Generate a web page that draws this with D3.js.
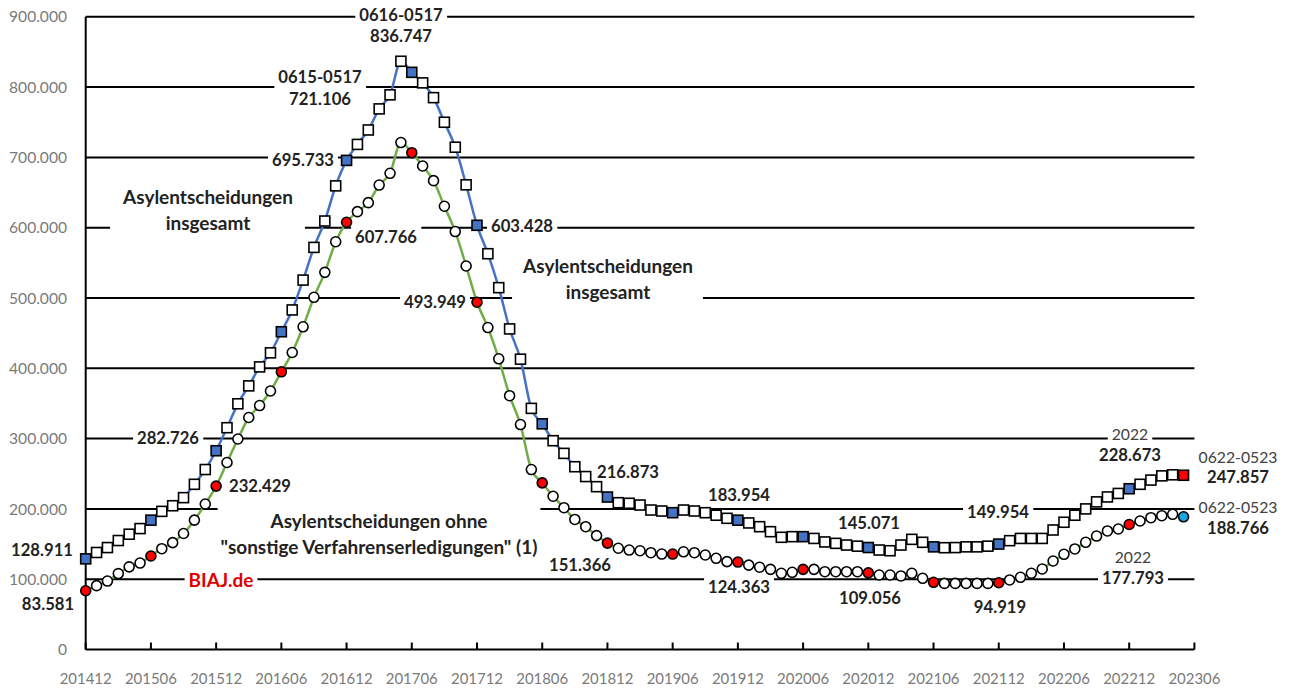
<!DOCTYPE html>
<html><head><meta charset="utf-8">
<script src="https://cdn.jsdelivr.net/npm/d3@7"></script>
<style>
html,body{margin:0;padding:0;background:#fff;}
svg{display:block;font-family:Lato,"Open Sans",sans-serif;}
</style></head>
<body><svg id="c" width="1291" height="691"></svg>
<script>
// ---- data ----
const startYear = 2014, startMonth = 12, nMonths = 102;
const months = [];
for (let k = 0; k < nMonths; k++) {
  const m = (startMonth - 1 + k) % 12 + 1, y = startYear + Math.floor((startMonth - 1 + k) / 12);
  months.push(String(y) + String(m).padStart(2, "0"));
}
const xTickLabels = ["201412","201506","201512","201606","201612","201706","201712","201806","201812","201906","201912","202006","202012","202106","202112","202206","202212","202306"];
const yTicks = [0,100000,200000,300000,400000,500000,600000,700000,800000,900000];

const totalDecisions = [128911,138000,145000,155000,164000,172000,184000,196500,204500,216000,235000,256000,
 282726,315500,349500,375000,402000,422000,452000,483000,525500,572000,609500,659500,
 695733,718500,739000,769000,789000,836747,821000,806000,785000,750000,714500,661000,
 603428,563000,514700,456000,413000,343000,321000,297000,279000,260000,246000,231600,
 216873,208800,208000,205500,198400,197000,194600,198400,197000,194600,191000,186600,
 183954,180000,174700,167600,159600,160500,160500,158000,153000,151000,148600,147000,
 145071,141500,140500,148600,156700,152500,146000,144800,145000,146000,146000,147000,
 149954,154800,158000,158000,158000,170000,181000,191000,200000,210000,217000,222000,
 228673,235000,241000,247000,248500,247857];

const withoutOther = [83581,90800,97400,108000,117600,123000,133000,143400,152000,165000,184000,207000,
 232429,266000,299400,330000,347000,367700,395000,422500,459000,501000,536500,580000,
 607766,622800,635600,660700,677400,721106,706700,687800,666900,630500,594500,545500,
 493949,458000,413500,361000,320000,256000,237000,218000,201700,185000,174700,162000,
 151366,144000,141500,140500,137700,135800,135800,139000,137700,134400,129700,125000,
 124363,120000,117000,114000,108400,109800,114000,114000,110700,110700,110700,110700,
 109056,106000,106000,104600,108400,101300,95600,94000,94000,94000,94000,94000,
 94919,98900,102700,108400,114500,125900,135400,143000,152500,161400,168600,171400,
 177793,182800,187500,190300,192300,188766];

const highlightIdx = [0,6,12,18,24,30,36,42,48,54,60,66,72,78,84,96];
const lastIdx = 101;

// ---- layout ----
const svg = d3.select("#c");
const x = d3.scaleLinear().domain([0, 102]).range([85.7, 1194.4]);
const y = d3.scaleLinear().domain([0, 900000]).range([649.5, 16.8]);
const fmt = v => d3.format(",")(v).replace(/,/g, ".");

function fitSize(sample, weight, target) {
  const t = svg.append("text").attr("font-size", 100).attr("font-weight", weight).text(sample);
  const w = t.node().getComputedTextLength();
  t.remove();
  return 100 * target / w;
}
const fsY = fitSize("900.000", 400, 58);
const fsX = fitSize("201412", 400, 52);
const fsNum = fitSize("836.747", 700, 62);
const fsTxt = fitSize("Asylentscheidungen", 700, 170);
const fsReg = fitSize("0622-0523", 400, 79);

// gridlines
svg.append("g").selectAll("line").data(yTicks.filter(d => d > 0)).join("line")
  .attr("x1", x(0)).attr("x2", x(102)).attr("y1", d => y(d)).attr("y2", d => y(d))
  .attr("stroke", "#000").attr("stroke-width", 2);

// y labels
svg.append("g").selectAll("text").data(yTicks).join("text")
  .attr("x", 67).attr("y", d => y(d)).attr("dy", "0.36em").attr("text-anchor", "end")
  .attr("font-size", fsY).attr("fill", "#7a7a7a").text(d => d === 0 ? "0" : fmt(d));

// axes
svg.append("line").attr("x1", x(0)).attr("x2", x(0)).attr("y1", y(900000)).attr("y2", y(0))
  .attr("stroke", "#000").attr("stroke-width", 2);
svg.append("line").attr("x1", x(0)).attr("x2", x(102)).attr("y1", y(0)).attr("y2", y(0))
  .attr("stroke", "#000").attr("stroke-width", 2);
const tickIdx = xTickLabels.map((_, i) => i * 6);
svg.append("g").selectAll("line").data(tickIdx).join("line")
  .attr("x1", d => x(d)).attr("x2", d => x(d)).attr("y1", y(0)).attr("y2", y(0) - 7)
  .attr("stroke", "#000").attr("stroke-width", 2);
svg.append("g").selectAll("text").data(xTickLabels).join("text")
  .attr("x", (d, i) => x(i * 6)).attr("y", 679).attr("dy", "0.36em").attr("text-anchor", "middle")
  .attr("font-size", fsX).attr("fill", "#7a7a7a").text(d => d);

const ann = [
  {lines:["0616-0517"], cx:401, cy:15, bold:true},
  {lines:["836.747"], cx:401, cy:36, bold:true, nobox:true},
  {lines:["0615-0517"], cx:320, cy:77, bold:true},
  {lines:["721.106"], cx:320, cy:99, bold:true, nobox:true},
  {lines:["695.733"], cx:303, cy:160, bold:true},
  {lines:["Asylentscheidungen","insgesamt"], cx:208, cy:210, bold:true, txt:true, lh:26, padX:12},
  {lines:["607.766"], cx:386, cy:237, bold:true},
  {lines:["603.428"], cx:522, cy:226, bold:true},
  {lines:["493.949"], cx:435, cy:302, bold:true},
  {lines:["Asylentscheidungen","insgesamt"], cx:608, cy:279, bold:true, txt:true, lh:26, padX:10},
  {lines:["282.726"], cx:168, cy:438, bold:true},
  {lines:["232.429"], cx:260, cy:486, bold:true, nobox:true},
  {lines:["Asylentscheidungen ohne","\"sonstige Verfahrenserledigungen\" (1)"], cx:379, cy:534, bold:true, txt:true, lh:26, padX:3, padTop:8},
  {lines:["BIAJ.de"], cx:221, cy:580, bold:true, txt:true, color:"#e00000"},
  {lines:["128.911"], cx:42, cy:550, bold:true, nobox:true},
  {lines:["83.581"], cx:48, cy:604, bold:true, nobox:true},
  {lines:["216.873"], cx:628, cy:472, bold:true, nobox:true},
  {lines:["151.366"], cx:580, cy:565, bold:true, nobox:true},
  {lines:["183.954"], cx:739, cy:495, bold:true, nobox:true},
  {lines:["124.363"], cx:739, cy:587, bold:true},
  {lines:["145.071"], cx:869, cy:523, bold:true, nobox:true},
  {lines:["109.056"], cx:870, cy:598, bold:true, nobox:true},
  {lines:["149.954"], cx:998, cy:512, bold:true},
  {lines:["94.919"], cx:1000, cy:607, bold:true, nobox:true},
  {lines:["2022"], cx:1130, cy:434, bold:false, color:"#404040"},
  {lines:["228.673"], cx:1130, cy:455, bold:true, nobox:true},
  {lines:["0622-0523"], cx:1238, cy:457, bold:false, color:"#404040", nobox:true},
  {lines:["247.857"], cx:1238, cy:477, bold:true, nobox:true},
  {lines:["0622-0523"], cx:1238, cy:507, bold:false, color:"#404040", nobox:true},
  {lines:["188.766"], cx:1238, cy:528, bold:true, nobox:true},
  {lines:["2022"], cx:1133, cy:557, bold:false, color:"#404040", nobox:true},
  {lines:["177.793"], cx:1133, cy:578, bold:true}
];
const annG = svg.append("g");
ann.forEach(a => {
  const g = annG.append("g");
  const lh = a.lh || 20;
  const n = a.lines.length;
  const fs = !a.bold ? fsReg : (a.txt ? fsTxt : fsNum);
  const t = g.append("text").attr("font-size", fs).attr("font-weight", a.bold ? 700 : 400)
    .attr("fill", a.color || "#222").attr("text-anchor", "middle");
  a.lines.forEach((l, k) => {
    t.append("tspan").attr("x", a.cx).attr("y", a.cy + (k - (n - 1) / 2) * lh).attr("dy", "0.36em").text(l);
  });
  if (!a.nobox) {
    const b = t.node().getBBox();
    const px = a.padX != null ? a.padX : 4;
    const pt = a.padTop || 1;
    g.insert("rect", "text").attr("x", b.x - px).attr("y", b.y - pt)
      .attr("width", b.width + 2 * px).attr("height", b.height + pt + 1).attr("fill", "#fff");
  }
});

const line = arr => d3.line().x((d, i) => x(i)).y(d => y(d)).curve(d3.curveMonotoneX)(arr);
svg.append("path").attr("d", line(totalDecisions)).attr("fill", "none").attr("stroke", "#4472C4").attr("stroke-width", 2.5);
svg.append("path").attr("d", line(withoutOther)).attr("fill", "none").attr("stroke", "#70AD47").attr("stroke-width", 2.5);

const sq = 10;
svg.append("g").selectAll("rect").data(totalDecisions).join("rect")
  .attr("x", (d, i) => x(i) - sq / 2).attr("y", d => y(d) - sq / 2).attr("width", sq).attr("height", sq)
  .attr("fill", (d, i) => i === lastIdx ? "#ff0000" : highlightIdx.includes(i) ? "#4472C4" : "#fff")
  .attr("stroke", "#000").attr("stroke-width", 1.6);
svg.append("g").selectAll("circle").data(withoutOther).join("circle")
  .attr("cx", (d, i) => x(i)).attr("cy", d => y(d)).attr("r", 5)
  .attr("fill", (d, i) => i === lastIdx ? "#1aa7e0" : highlightIdx.includes(i) ? "#ff0000" : "#fff")
  .attr("stroke", "#000").attr("stroke-width", 1.6);
</script></body></html>
